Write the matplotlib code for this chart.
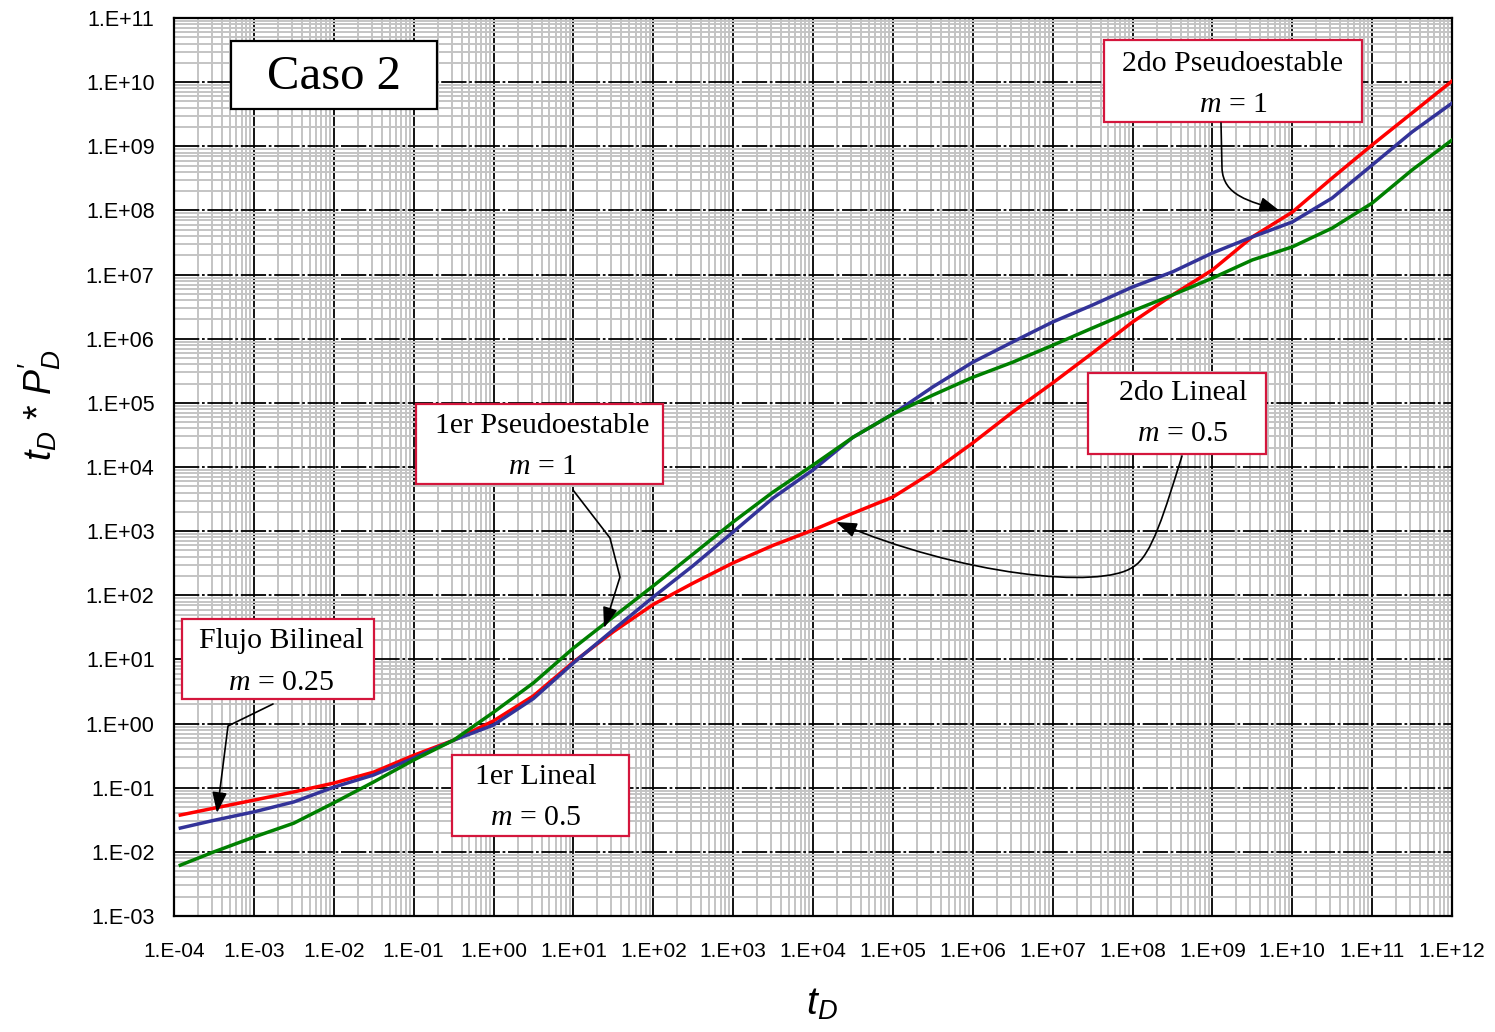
import numpy as np
import matplotlib
matplotlib.use("Agg")
import matplotlib.pyplot as plt
from matplotlib.patches import Rectangle, FancyArrowPatch
from matplotlib.path import Path
from matplotlib.ticker import FixedLocator, LogLocator, FuncFormatter, NullFormatter

plt.rcParams['mathtext.fontset'] = 'custom'
plt.rcParams['mathtext.rm'] = 'Liberation Serif'
plt.rcParams['mathtext.it'] = 'Liberation Serif:italic'
plt.rcParams['mathtext.sf'] = 'Liberation Sans:italic'

# ---- data: dimensionless time vs pressure-derivative group ----
t_D = [1.2e-4, 3.16e-4, 1e-3, 3.16e-3, 1e-2, 3.16e-2, 1e-1, 3.16e-1, 1e0, 3.16e0,
       1e1, 3.16e1, 1e2, 3.16e2, 1e3, 3.16e3, 1e4, 3.16e4, 1e5, 3.16e5,
       1e6, 3.16e6, 1e7, 3.16e7, 1e8, 3.16e8, 1e9, 3.16e9, 1e10, 3.16e10,
       1e11, 3.16e11, 1e12]

y_red = [0.0375, 0.048, 0.064, 0.086, 0.118, 0.175, 0.32, 0.55, 1.1, 2.7,
         9.1, 27, 72, 155, 320, 600, 1040, 1900, 3400, 8360,
         2.37e4, 7.2e4, 2.04e5, 6.0e5, 1.82e6, 4.8e6, 1.18e7, 3.86e7, 9.4e7, 3.2e8,
         1.05e9, 3.3e9, 1.04e10]

y_blue = [0.0235, 0.031, 0.042, 0.060, 0.102, 0.158, 0.29, 0.55, 0.95, 2.45,
          8.8, 29, 94, 290, 970, 3280, 9000, 2.9e4, 6.7e4, 1.77e5,
          4.3e5, 8.9e5, 1.82e6, 3.35e6, 6.4e6, 1.1e7, 2.17e7, 3.86e7, 6.6e7, 1.56e8,
          5.1e8, 1.67e9, 4.7e9]

y_green = [6.2e-3, 0.0100, 0.017, 0.028, 0.058, 0.123, 0.27, 0.55, 1.5, 4.3,
           15, 46, 140, 440, 1390, 4070, 1.07e4, 2.9e4, 6.7e4, 1.32e5,
           2.5e5, 4.3e5, 7.9e5, 1.47e6, 2.7e6, 4.8e6, 8.8e6, 1.69e7, 2.7e7, 5.3e7,
           1.3e8, 4.27e8, 1.25e9]

x_exponents = list(range(-4, 13))
y_exponents = list(range(-3, 12))
x_tick_labels = [f"1.E{e:+03d}" for e in x_exponents]
y_tick_labels = [f"1.E{e:+03d}" for e in y_exponents]

# ---- figure / axes ----
W, H = 1495, 1032
AX_L, AX_R, AX_T, AX_B = 174, 1452, 18, 916
fig = plt.figure(figsize=(W / 100, H / 100), dpi=100)
ax = fig.add_axes([AX_L / W, 1 - AX_B / H, (AX_R - AX_L) / W, (AX_B - AX_T) / H])


def frac(px, py):
    """Pixel position in the figure -> axes fraction."""
    return ((px - AX_L) / (AX_R - AX_L), (AX_B - py) / (AX_B - AX_T))


ax.set_xscale('log')
ax.set_yscale('log')
ax.set_xlim(1e-4, 1e12)
ax.set_ylim(1e-3, 1e11)

ax.xaxis.set_major_locator(FixedLocator([10.0 ** e for e in x_exponents]))
ax.yaxis.set_major_locator(FixedLocator([10.0 ** e for e in y_exponents]))
ax.xaxis.set_major_formatter(FuncFormatter(lambda v, p: x_tick_labels[p] if p is not None and p < len(x_tick_labels) else ""))
ax.yaxis.set_major_formatter(FuncFormatter(lambda v, p: y_tick_labels[p] if p is not None and p < len(y_tick_labels) else ""))
ax.xaxis.set_minor_locator(LogLocator(base=10, subs=np.arange(2, 10), numticks=100))
ax.yaxis.set_minor_locator(LogLocator(base=10, subs=np.arange(2, 10), numticks=100))
ax.xaxis.set_minor_formatter(NullFormatter())
ax.yaxis.set_minor_formatter(NullFormatter())

ax.tick_params(which='both', length=0)
ax.tick_params(axis='x', pad=19)
ax.tick_params(axis='y', pad=14)
for lab in ax.get_xticklabels():
    lab.set_fontfamily(['Liberation Sans Narrow', 'Liberation Sans'])
    lab.set_fontsize(15)
for lab in ax.get_yticklabels():
    lab.set_fontfamily(['Liberation Sans'])
    lab.set_fontsize(15.5)

ax.set_axisbelow(True)
ax.grid(which='minor', color='#c4c4c4', lw=1.4)
ax.xaxis.grid(True, which='major', color='black', lw=1.3, ls='-')
ax.yaxis.grid(True, which='major', color='black', lw=1.3, ls=(0, (14, 1.5, 1.5, 1.5)))
for s in ax.spines.values():
    s.set_color('black')
    s.set_linewidth(1.6)

# ---- curves ----
ax.plot(t_D, y_red, color='#ff0000', lw=2.5, zorder=3)
ax.plot(t_D, y_blue, color='#333399', lw=2.5, zorder=3)
ax.plot(t_D, y_green, color='#008000', lw=2.5, zorder=3)

# ---- labelled boxes ----
box_red = '#d4163c'


def label_box(x0, y0, x1, y1, lines, edge, size, cx=None):
    a = frac(x0, y1)
    b = frac(x1, y0)
    ax.add_patch(Rectangle(a, b[0] - a[0], b[1] - a[1], transform=ax.transAxes,
                           facecolor='white', edgecolor=edge, lw=1.6,
                           zorder=5, clip_on=False))
    cx = (x0 + x1) / 2 if cx is None else cx
    for txt, py in lines:
        fx, fy = frac(cx, py)
        ax.text(fx, fy, txt, transform=ax.transAxes, ha='center', va='center',
                family='Liberation Serif', fontsize=size, zorder=6)


label_box(231, 41, 437, 109, [("Caso 2", 77)], 'black', 35)
label_box(1104, 40, 1362, 122, [("2do Pseudoestable", 64), (r"$m$ = 1", 105)], box_red, 21.5)
label_box(416, 404, 663, 484, [("1er Pseudoestable", 426), (r"$m$ = 1", 467)], box_red, 21.5, cx=542)
label_box(182, 619, 374, 699, [("Flujo Bilineal", 641), (r"$m$ = 0.25", 683)], box_red, 21.5, cx=281)
label_box(452, 755, 629, 836, [("1er Lineal", 777), (r"$m$ = 0.5", 818)], box_red, 21.5, cx=536)
label_box(1088, 373, 1266, 454, [("2do Lineal", 393), (r"$m$ = 0.5", 434)], box_red, 21.5, cx=1183)

# ---- leader arrows ----
M, L3, C4 = Path.MOVETO, Path.LINETO, Path.CURVE4


def leader(pts, codes):
    verts = [frac(*p) for p in pts]
    ax.add_patch(FancyArrowPatch(path=Path(verts, codes), transform=ax.transAxes,
                                 arrowstyle='-|>,head_length=0.7,head_width=0.25',
                                 mutation_scale=18, color='black', lw=1.2,
                                 zorder=7, clip_on=False))


leader([(1221, 123), (1222, 168), (1223, 196), (1250, 201), (1280, 211)],
       [M, L3, C4, C4, C4])
leader([(573, 490), (610, 538), (620, 577), (604, 628)], [M, L3, L3, L3])
leader([(273, 704), (228, 726), (217, 813)], [M, L3, L3])
leader([(1182, 456), (1165, 510), (1152, 556), (1133, 567),
        (1100, 590), (960, 575), (836, 522)],
       [M, C4, C4, C4, C4, C4, C4])

# ---- axis titles ----
fig.text(822 / W, 1 - 1003 / H, r'$\mathsf{t}_\mathsf{D}$', ha='center', va='center',
         fontsize=28)
fig.text(40 / W, 1 - 405 / H,
         "$\\mathsf{t}_\\mathsf{D}$ * $\\mathsf{P}^{\\mathsf{\u2032}}_{\\mathsf{D}}$",
         ha='center', va='center', rotation=90, fontsize=27, family='Liberation Sans')

fig.savefig('out.png', dpi=100)
